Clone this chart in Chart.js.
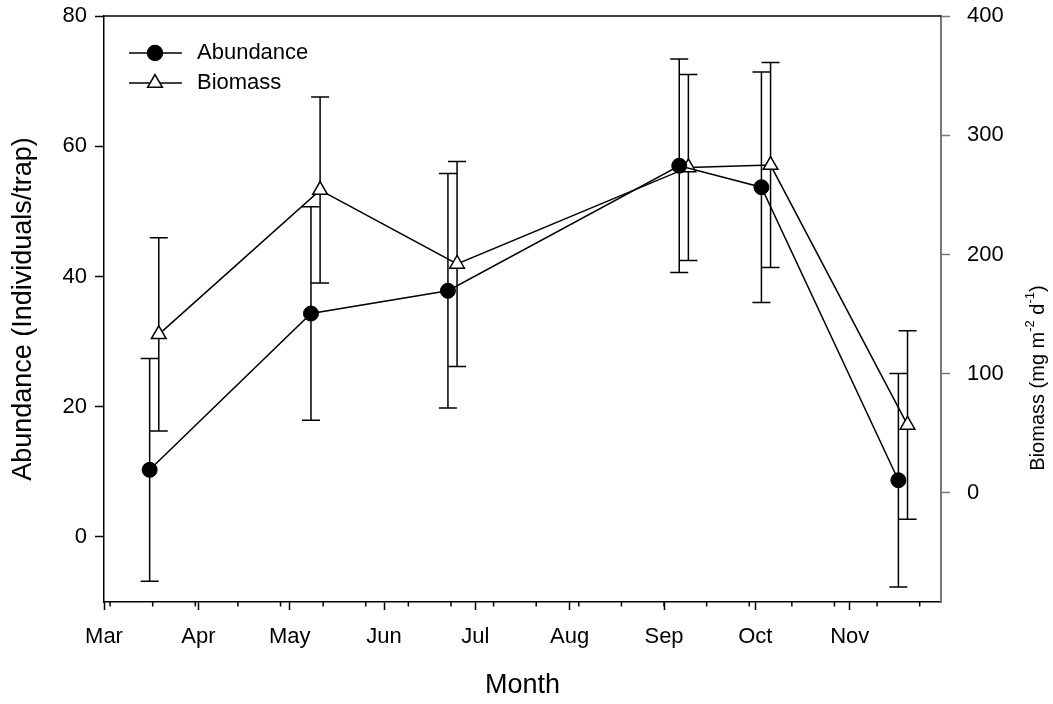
<!DOCTYPE html>
<html>
<head>
<meta charset="utf-8">
<script src="https://cdn.jsdelivr.net/npm/chart.js@4.4.0/dist/chart.umd.min.js"></script>
<style>
  html, body { margin: 0; padding: 0; background: #fff; }
  #wrap { width: 1053px; height: 704px; }
</style>
</head>
<body>
<div id="wrap"><canvas id="abundanceChart" width="1053" height="704"></canvas></div>
<script>
 // x values are days counted from 1 March
 const monthLabels = ['Mar', 'Apr', 'May', 'Jun', 'Jul', 'Aug', 'Sep', 'Oct', 'Nov'];
 const monthStarts = [0, 31, 61, 92, 122, 153, 184, 214, 245];
 const minorTickDays = [2, 16, 30, 44, 58, 72, 86, 100, 114, 128, 142, 156, 170, 184, 198, 212, 226, 240, 254, 268];

 const abundanceDays = [15, 68, 113, 189, 216, 261];
 const abundance = [10.3, 34.3, 37.8, 57.0, 53.7, 8.7];
 const abundanceErr = [17.1, 16.4, 18.0, 16.4, 17.7, 16.4];

 const biomassDays = [18, 71, 116, 192, 219, 264];
 const biomass = [133, 254, 192, 273, 275, 57];
 const biomassErr = [81, 78, 86, 78, 86, 79];

 const leftTicks = [0, 20, 40, 60, 80];
 const rightTicks = [0, 100, 200, 300, 400];

 const fontFamily = '"Liberation Sans", Arial, sans-serif';
 Chart.defaults.font.family = fontFamily;
 Chart.defaults.color = '#000';

 function drawMarker(c, style, x, y, r) {
     c.beginPath();
     if (style === 'triangle') {
         c.moveTo(x, y - r);
         c.lineTo(x + Math.sin(2 * Math.PI / 3) * r, y + r / 2);
         c.lineTo(x - Math.sin(2 * Math.PI / 3) * r, y + r / 2);
         c.closePath();
     } else {
         c.arc(x, y, r, 0, Math.PI * 2);
     }
     c.fill();
     c.stroke();
 }

 // pin the y axes so the plot box lands where the original has it
 function fitY(width) {
     return s => {
         s.width = width;
         s.paddingTop = 0;
         s.paddingBottom = 0;
     };
 }

 // error bars go under the markers
 const errorBars = {
     id: 'errorBars',
     beforeDatasetsDraw(chart) {
         const c = chart.ctx;
         const xScale = chart.scales.x;
         c.save();
         c.strokeStyle = '#000';
         c.lineWidth = 1.5;
         chart.data.datasets.forEach(ds => {
             const yScale = chart.scales[ds.yAxisID];
             ds.data.forEach((p, j) => {
                 const x = xScale.getPixelForValue(p.x);
                 const top = yScale.getPixelForValue(p.y + ds.err[j]);
                 const bot = yScale.getPixelForValue(p.y - ds.err[j]);
                 c.beginPath();
                 c.moveTo(x, top); c.lineTo(x, bot);
                 c.moveTo(x - 9, top); c.lineTo(x + 9, top);
                 c.moveTo(x - 9, bot); c.lineTo(x + 9, bot);
                 c.stroke();
             });
         });
         c.restore();
     }
 };

 // frame top, minor month ticks, right title and the legend
 const extras = {
     id: 'extras',
     afterDraw(chart) {
         const c = chart.ctx;
         const area = chart.chartArea;
         const xScale = chart.scales.x;
         c.save();
         c.strokeStyle = '#000';
         c.lineWidth = 1.5;
         c.beginPath();
         c.moveTo(area.left, area.top);
         c.lineTo(area.right, area.top);
         c.stroke();

         c.beginPath();
         minorTickDays.forEach(d => {
             const x = xScale.getPixelForValue(d);
             c.moveTo(x, area.bottom);
             c.lineTo(x, area.bottom + 4.5);
         });
         c.stroke();

         // right axis title with superscripts
         c.translate(1038, 378);
         c.rotate(-Math.PI / 2);
         const parts = [
             ['Biomass (mg m', false], ['-2', true], [' d', false], ['-1', true], [')', false]
         ];
         const big = '20px ' + fontFamily, small = '13px ' + fontFamily;
         let total = 0;
         parts.forEach(([t, sup]) => { c.font = sup ? small : big; total += c.measureText(t).width; });
         let x = -total / 2;
         c.fillStyle = '#000';
         c.textBaseline = 'middle';
         parts.forEach(([t, sup]) => {
             c.font = sup ? small : big;
             c.fillText(t, x, sup ? -8 : 0);
             x += c.measureText(t).width;
         });
         c.restore();

         // legend
         c.save();
         c.lineWidth = 1.5;
         c.strokeStyle = '#000';
         c.font = '22px ' + fontFamily;
         c.textBaseline = 'middle';
         chart.data.datasets.forEach((ds, i) => {
             const y = 53 + i * 30;
             c.beginPath();
             c.moveTo(129, y); c.lineTo(182, y);
             c.stroke();
             c.fillStyle = ds.pointBackgroundColor;
             drawMarker(c, ds.pointStyle, 155, y, ds.pointRadius);
             c.fillStyle = '#000';
             c.fillText(ds.label, 197, y);
         });
         c.restore();
     }
 };

 const ctx = document.getElementById('abundanceChart').getContext('2d');
 const abundanceChart = new Chart(ctx, {
     type: 'line',
     data: {
         datasets: [{
             label: 'Abundance',
             data: abundanceDays.map((d, i) => ({ x: d, y: abundance[i] })),
             err: abundanceErr,
             yAxisID: 'y',
             borderColor: '#000',
             borderWidth: 1.5,
             pointStyle: 'circle',
             pointRadius: 7.5,
             pointBackgroundColor: '#000',
             pointBorderColor: '#000',
             pointBorderWidth: 1
         }, {
             label: 'Biomass',
             data: biomassDays.map((d, i) => ({ x: d, y: biomass[i] })),
             err: biomassErr,
             yAxisID: 'y1',
             borderColor: '#000',
             borderWidth: 1.5,
             pointStyle: 'triangle',
             pointRadius: 8.5,
             pointBackgroundColor: '#fff',
             pointBorderColor: '#000',
             pointBorderWidth: 1.5
         }]
     },
     options: {
         responsive: false,
         animation: false,
         layout: { padding: { top: 16, left: 0, right: 0, bottom: 0 } },
         plugins: {
             legend: { display: false },
             tooltip: { enabled: false }
         },
         scales: {
             x: {
                 type: 'linear',
                 position: 'bottom',
                 min: 0,
                 max: 275,
                 afterBuildTicks: s => { s.ticks = monthStarts.map(v => ({ value: v })); },
                 afterFit: s => { s.height = 102; },
                 ticks: {
                     callback: (v, i) => monthLabels[i],
                     font: { size: 22 },
                     padding: 14,
                     maxRotation: 0,
                     autoSkip: false
                 },
                 grid: { drawOnChartArea: false, tickLength: 8, tickColor: '#000', tickWidth: 1.5 },
                 border: { color: '#000', width: 1.5 },
                 title: { display: true, text: 'Month', font: { size: 27 }, padding: { top: 0, bottom: 2 } }
             },
             y: {
                 type: 'linear',
                 position: 'left',
                 min: -10,
                 max: 80,
                 afterBuildTicks: s => { s.ticks = leftTicks.map(v => ({ value: v })); },
                 afterFit: fitY(104),
                 ticks: { font: { size: 22 }, padding: 8 },
                 grid: { drawOnChartArea: false, tickLength: 9, tickColor: '#000', tickWidth: 1.5 },
                 border: { color: '#000', width: 1.5 },
                 title: { display: true, text: 'Abundance (Individuals/trap)', font: { size: 27 }, padding: { top: 7, bottom: 0 } }
             },
             y1: {
                 type: 'linear',
                 position: 'right',
                 min: -91.5,
                 max: 400,
                 afterBuildTicks: s => { s.ticks = rightTicks.map(v => ({ value: v })); },
                 afterFit: fitY(112),
                 ticks: { font: { size: 22 }, padding: 17 },
                 grid: { drawOnChartArea: false, tickLength: 9, tickColor: '#777', tickWidth: 1.5 },
                 border: { color: '#777', width: 2 }
             }
         }
     },
     plugins: [errorBars, extras]
 });
</script>
</body>
</html>
